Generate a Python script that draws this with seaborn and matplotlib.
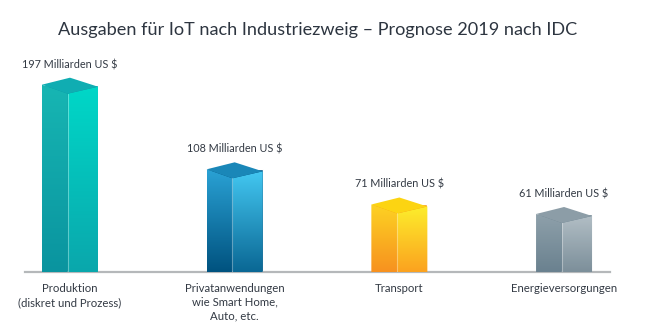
import numpy as np
import pandas as pd
import matplotlib
matplotlib.use("Agg")
import matplotlib.pyplot as plt
from matplotlib.patches import Polygon
from matplotlib.colors import to_rgb
import seaborn as sns

# Daten
kategorien = [
    "Produktion\n(diskret und Prozess)",
    "Privatanwendungen\nwie Smart Home,\nAuto, etc.",
    "Transport",
    "Energieversorgungen",
]
werte = [197, 108, 71, 61]
einheit = "Milliarden US $"
titel = "Ausgaben für IoT nach Industriezweig – Prognose 2019 nach IDC"

# Farben je Säule: linke Seite (unten, oben), rechte Seite (unten, oben), Deckfläche
links_unten = ["#0a949f", "#00527f", "#f7911f", "#6a818f"]
links_oben = ["#17b6b3", "#2aa2d5", "#fdd323", "#8fa1ab"]
rechts_unten = ["#0aa7ac", "#0a6794", "#fba21f", "#7c8f9a"]
rechts_oben = ["#00d8c8", "#44c9f3", "#fdf02c", "#b4c0c7"]
deckel = ["#10adb2", "#1a87b8", "#fcd412", "#8c9da7"]

sns.set_theme(style="white")
plt.rcParams["font.family"] = ["Lato", "DejaVu Sans"]

W, H = 651, 335
fig = plt.figure(figsize=(W / 100, H / 100), dpi=100)
ax_l, ax_r, ax_b, ax_t = 25, 610, 272, 40
ax = fig.add_axes([ax_l / W, 1 - ax_b / H, (ax_r - ax_l) / W, (ax_b - ax_t) / H])

df = pd.DataFrame({"Kategorie": kategorien, "Wert": werte})
sns.barplot(data=df, x="Kategorie", y="Wert", hue="Kategorie",
            palette=links_unten, width=0.34, saturation=1, legend=False, ax=ax)

ymax = 244
ax.set_xlim(-0.273, 3.279)
ax.set_ylim(0, ymax)
px = ymax / (ax_b - ax_t)  # Dateneinheiten pro Pixel

def verlauf(poly_pts, unten, oben, x0, x1, y1):
    poly = Polygon(poly_pts, closed=True, facecolor="none", edgecolor="none")
    ax.add_patch(poly)
    c0, c1 = np.array(to_rgb(unten)), np.array(to_rgb(oben))
    t = np.linspace(0, 1, 256)[:, None, None]
    img = c0 + (c1 - c0) * t
    im = ax.imshow(img, extent=[x0, x1, 0, y1], origin="lower",
                   aspect="auto", interpolation="bilinear", zorder=3)
    im.set_clip_path(poly)

for i, bar in enumerate(ax.patches):
    x0 = bar.get_x()
    w = bar.get_width()
    h = bar.get_height()
    x1 = x0 + w
    xs = x0 + 0.46 * w
    xa = x0 + 0.50 * w
    dip = 9 * px
    rdrop = 2 * px
    rise = 7 * px
    # linke Seitenfläche
    verlauf([(x0, 0), (xs, 0), (xs, h - dip), (x0, h)],
            links_unten[i], links_oben[i], x0, xs, h)
    # rechte Seitenfläche
    verlauf([(xs, 0), (x1, 0), (x1, h - rdrop), (xs, h - dip)],
            rechts_unten[i], rechts_oben[i], xs, x1, h)
    # Deckfläche
    ax.add_patch(Polygon([(x0, h), (xa, h + rise), (x1, h - rdrop), (xs, h - dip)],
                         closed=True, facecolor=deckel[i], edgecolor="none", zorder=4))
    ax.plot([xs, xs], [0, h - dip], color="white", alpha=0.35, lw=0.8, zorder=5)
    ax.annotate(f"{werte[i]} {einheit}", xy=(xa, h), xytext=(0, 20),
                textcoords="offset pixels", ha="center", va="center",
                fontsize=7.8, color="#333a44", zorder=6)

for s in ["top", "right", "left"]:
    ax.spines[s].set_visible(False)
ax.spines["bottom"].set_color("#b5b8ba")
ax.spines["bottom"].set_linewidth(1.6)
ax.set_yticks([])
ax.set_xlabel("")
ax.set_ylabel("")
ax.tick_params(axis="x", length=0, pad=8, labelsize=8.2, labelcolor="#333a44")
for lab in ax.get_xticklabels():
    lab.set_linespacing(1.3)

fig.text(318 / W, 1 - 30 / H, titel, ha="center", va="center",
         fontsize=13.1, color="#2d3540")

fig.savefig("out.png", dpi=100)
